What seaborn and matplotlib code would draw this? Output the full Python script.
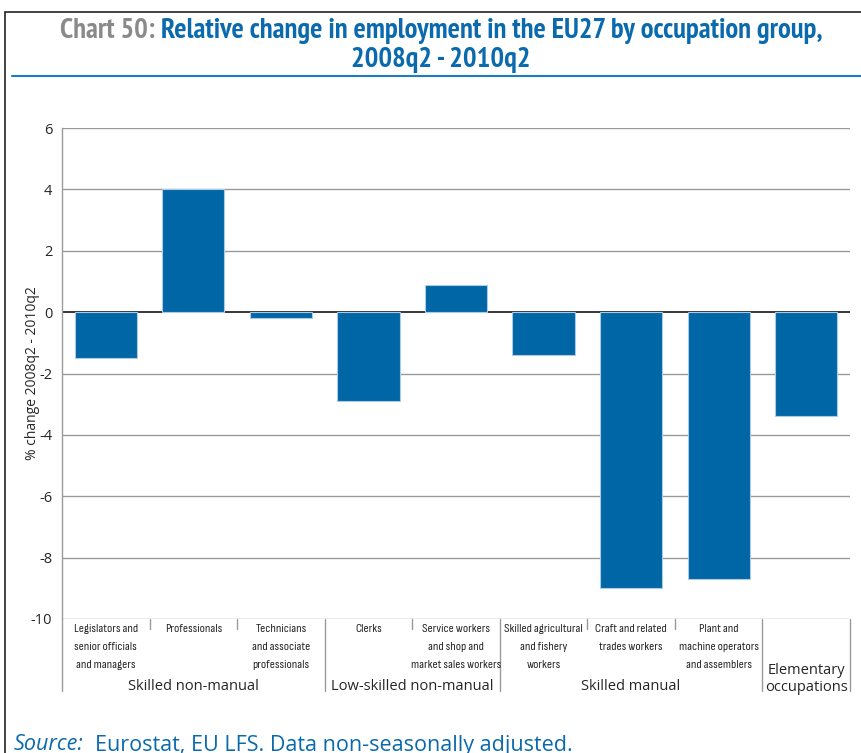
import matplotlib
matplotlib.use("Agg")
import matplotlib.pyplot as plt
import seaborn as sns
import pandas as pd
from matplotlib import font_manager
from matplotlib.patches import Rectangle
from matplotlib.lines import Line2D

# data
occupations = [
    "Legislators and\nsenior officials\nand managers",
    "Professionals",
    "Technicians\nand associate\nprofessionals",
    "Clerks",
    "Service workers\nand shop and\nmarket sales workers",
    "Skilled agricultural\nand fishery\nworkers",
    "Craft and related\ntrades workers",
    "Plant and\nmachine operators\nand assemblers",
    "",
]
pct_change = [-1.5, 4.0, -0.2, -2.9, 0.9, -1.4, -9.0, -8.7, -3.4]
groups = ["Skilled non-manual", "Low-skilled non-manual", "Skilled manual", "Elementary\noccupations"]
group_sizes = [3, 2, 3, 1]
yticks = [6, 4, 2, 0, -2, -4, -6, -8, -10]

BLUE = "#0066a6"
TITLE_BLUE = "#0a6aad"
GRID = "#9a9a9a"

sns.set_style("white")
plt.rcParams["font.family"] = ["Open Sans", "DejaVu Sans"]

W, H = 862, 753
fig = plt.figure(figsize=(W / 100, H / 100), dpi=100)
renderer = fig.canvas.get_renderer()

# pick condensed faces if any are around
installed = {f.name for f in font_manager.fontManager.ttflist}
def first_of(names):
    found = [f for f in names if f in installed]
    return found[:1] + ["DejaVu Sans"]

narrow = first_of(["PT Sans Narrow", "Roboto Condensed", "Liberation Sans Narrow",
                   "Open Sans Condensed", "Archivo Narrow", "Liberation Sans"])

# for the small labels take the condensed face whose width at 10 pt is closest to the reference
candidates = ["Fira Sans Extra Condensed", "Fira Sans Condensed", "Sofia Sans Condensed",
              "Cabin Condensed", "Encode Sans Condensed", "Asap Condensed", "Roboto Condensed",
              "PT Sans Narrow", "Archivo Narrow", "Barlow Semi Condensed", "Barlow Condensed",
              "IBM Plex Sans Condensed", "Saira Semi Condensed", "Open Sans Condensed",
              "Ubuntu Condensed", "Pragati Narrow", "Abel", "Gudea", "Liberation Sans Narrow",
              "Liberation Sans"]
best, best_err = "DejaVu Sans", 1e9
for name in candidates:
    if name not in installed:
        continue
    probe = fig.text(0, 0, "market sales workers", fontsize=10, family=[name, "DejaVu Sans"])
    err = abs(probe.get_window_extent(renderer).width - 88)
    probe.remove()
    if err < best_err:
        best, best_err = name, err
label_font = [best, "DejaVu Sans"]

df = pd.DataFrame({"occ": [str(i) for i in range(len(pct_change))], "val": pct_change})

ax = fig.add_axes([62 / W, 1 - 619 / H, 788 / W, 491 / H])

for t in yticks:
    ax.axhline(t, color=GRID if t != 0 else "black", lw=1.0 if t != 0 else 1.1, zorder=0)

sns.barplot(data=df, x="occ", y="val", color=BLUE, width=0.71, saturation=1,
            edgecolor="#a9cbe6", linewidth=0.8, ax=ax, zorder=2)

ax.set_xlim(-0.5, len(pct_change) - 0.5)
ax.set_ylim(-10, 6)
ax.set_yticks(yticks)
ax.set_yticklabels([str(t) for t in yticks], fontsize=10.5)
ax.tick_params(axis="y", length=0, pad=7)
ax.set_xticks([])
ax.set_xlabel("")
ax.set_ylabel("% change 2008q2 - 2010q2", fontsize=10)
ax.yaxis.set_label_coords(-22 / 788, 0.5)
for s in ["top", "right", "bottom"]:
    ax.spines[s].set_visible(False)
ax.spines["left"].set_color(GRID)
ax.spines["left"].set_linewidth(1.0)

# category labels (one text per line, 18 px apart) and separators below the axis
trans = ax.get_xaxis_transform()
px = 1 / 491
cat_texts = []
for i, lab in enumerate(occupations):
    if not lab:
        continue
    for k, line in enumerate(lab.split("\n")):
        t = ax.text(i, -(13 + 18 * k) * px, line, transform=trans, ha="center", va="baseline",
                    fontsize=10, family=label_font, clip_on=False)
        cat_texts.append(t)
widest = max(t.get_window_extent(renderer).width for t in cat_texts)
csize = min(10.5, 10 * 89 / widest)
for t in cat_texts:
    t.set_fontsize(csize)

bounds = [0]
for g in group_sizes:
    bounds.append(bounds[-1] + g)
for b in range(len(pct_change) + 1):
    long = b in bounds
    y1 = -72 * px if long else -10 * px
    ax.add_line(Line2D([b - 0.5, b - 0.5], [0, y1], transform=trans, color=GRID,
                       lw=1.0, clip_on=False))

for g, start, size in zip(groups, bounds[:-1], group_sizes):
    cx = start + size / 2 - 0.5
    if "\n" in g:
        ax.text(cx, -76 * px, g, transform=trans, ha="center", va="bottom",
                fontsize=10.5, linespacing=1.2, clip_on=False)
    else:
        ax.text(cx, -67 * px, g, transform=trans, ha="center", va="center",
                fontsize=10.5, clip_on=False)

# frame and title
fig.patches.append(Rectangle((5 / W, -0.1), 1.2, 1 - 12 / H + 0.1, transform=fig.transFigure,
                             fill=False, edgecolor="#222222", lw=1.2))
fig.add_artist(Line2D([12 / W, 1.0], [1 - 76 / H, 1 - 76 / H], color="#1a7cc4", lw=1.5))

part1 = "Chart 50: "
part2 = "Relative change in employment in the EU27 by occupation group,"
y1 = 1 - 31 / H
tsize = 16
a = fig.text(0, y1, part1, color="#8a8a8a", va="center", ha="left",
             fontsize=tsize, fontweight="bold", family=narrow)
b = fig.text(0, y1, part2, color=TITLE_BLUE, va="center", ha="left",
             fontsize=tsize, fontweight="bold", family=narrow)
total = a.get_window_extent(renderer).width + b.get_window_extent(renderer).width
tsize = tsize * 760 / total
a.set_fontsize(tsize)
b.set_fontsize(tsize)
wa = a.get_window_extent(renderer).width / W
wb = b.get_window_extent(renderer).width / W
x0 = 441 / W - (wa + wb) / 2
a.set_x(x0)
b.set_x(x0 + wa)
fig.text(441 / W, 1 - 60 / H, "2008q2 - 2010q2", color=TITLE_BLUE, va="center", ha="center",
         fontsize=tsize, fontweight="bold", family=narrow)

# source line
s1 = fig.text(14 / W, 1 - 745 / H, "Source:", color=TITLE_BLUE, fontsize=15.5, style="italic", va="center")
ws = s1.get_window_extent(renderer).width / W
fig.text(14 / W + ws + 11 / W, 1 - 745 / H, "Eurostat, EU LFS. Data non-seasonally adjusted.",
         color=TITLE_BLUE, fontsize=15.5, va="center")

fig.savefig("out.png", dpi=100)
